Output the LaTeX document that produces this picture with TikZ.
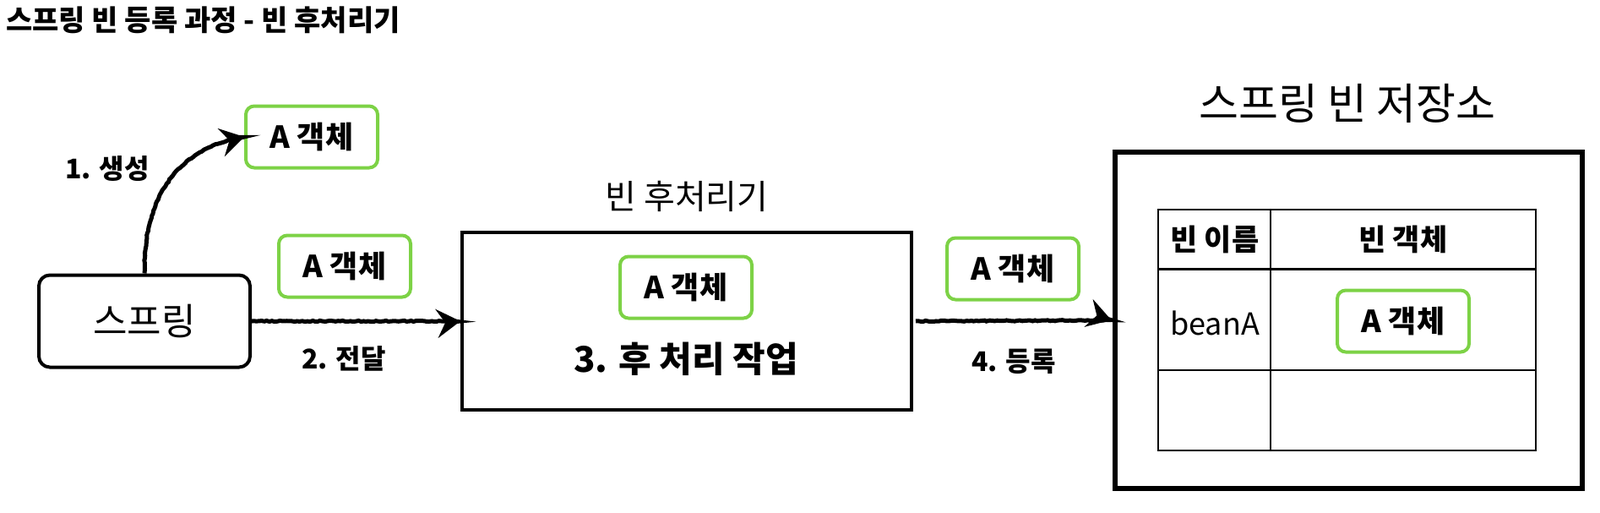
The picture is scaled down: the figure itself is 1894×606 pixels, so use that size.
\documentclass[tikz,border=0pt]{standalone}
\usepackage{fontspec}
\setmainfont{Noto Sans CJK KR}
\usetikzlibrary{arrows.meta,decorations.pathmorphing}
\definecolor{objgreen}{RGB}{125,210,70}
\tikzset{
  objbox/.style={draw=objgreen, line width=4pt, rounded corners=10pt, minimum width=156pt, minimum height=73pt, inner sep=0pt, font=\fontsize{36}{36}\selectfont\bfseries},
  sketch/.style={draw=black, line width=5pt, -{Stealth[length=28pt,width=34pt,inset=10pt]}, decoration={random steps,segment length=3pt,amplitude=0.6pt}, decorate},
  lbl/.style={font=\fontsize{32}{32}\selectfont\bfseries, inner sep=0pt},
  cell/.style={inner sep=0pt}
}
\begin{document}
\begin{tikzpicture}[x=1pt,y=-1pt]
\useasboundingbox (0,0) rectangle (1894,606);
% title
\node[anchor=west, inner sep=0pt, font=\fontsize{34}{34}\selectfont\bfseries] (title) at (7,24) {스프링 빈 등록 과정 - 빈 후처리기};
% spring
\node[draw, line width=4pt, rounded corners=13pt, minimum width=250pt, minimum height=109pt, inner sep=0pt, font=\fontsize{44}{44}\selectfont] (spring) at (171,380) {스프링};
% object 1
\node[objbox] (obj1) at (369,162) {A 객체};
\node[lbl] (l1) at (127,200) {1. 생성};
% object 2
\node[objbox] (obj2) at (408,315) {A 객체};
\node[lbl] (l2) at (407,424) {2. 전달};
% bean post processor
\node[draw, line width=4pt, minimum width=532pt, minimum height=210pt, inner sep=0pt] (bpp) at (813,380) {};
\node[inner sep=0pt, font=\fontsize{40}{40}\selectfont] (bpptitle) at (813,232) {빈 후처리기};
\node[objbox] (obj3) at (812,340) {A 객체};
\node[inner sep=0pt, font=\fontsize{42}{42}\selectfont\bfseries] (work) at (812,425) {3. 후 처리 작업};
% object 4
\node[objbox] (obj4) at (1199,318) {A 객체};
\node[lbl] (l4) at (1200,428) {4. 등록};
% storage
\node[draw, line width=6pt, minimum width=553pt, minimum height=398pt, inner sep=0pt] (store) at (1596,379) {};
\node[inner sep=0pt, font=\fontsize{51}{51}\selectfont] (storetitle) at (1595,122) {스프링 빈 저장소};
% table
\coordinate (tA) at (1371,248);
\coordinate (tB) at (1818,533);
\draw[line width=1.6pt] (tA) rectangle (tB);
\draw[line width=1.6pt] (1504,248) -- (1504,533);
\draw[line width=3pt] (1371,318) -- (1818,318);
\draw[line width=1.6pt] (1371,438) -- (1818,438);
\node[cell, font=\fontsize{35}{35}\selectfont\bfseries] (h1) at (1438,283) {빈 이름};
\node[cell, font=\fontsize{35}{35}\selectfont\bfseries] (h2) at (1661,283) {빈 객체};
\node[cell, font=\fontsize{36}{36}\selectfont] (bn) at (1438,382) {beanA};
\node[objbox] (obj5) at (1661,380) {A 객체};
% arrows
\draw[sketch] (spring.north) .. controls (170,230) and (212,175) .. (obj1.west);
\draw[sketch] (spring.east) -- (bpp.west);
\draw[sketch, shorten <=4pt, shorten >=1pt] (bpp.east) -- (store.west);
\end{tikzpicture}
\end{document}
